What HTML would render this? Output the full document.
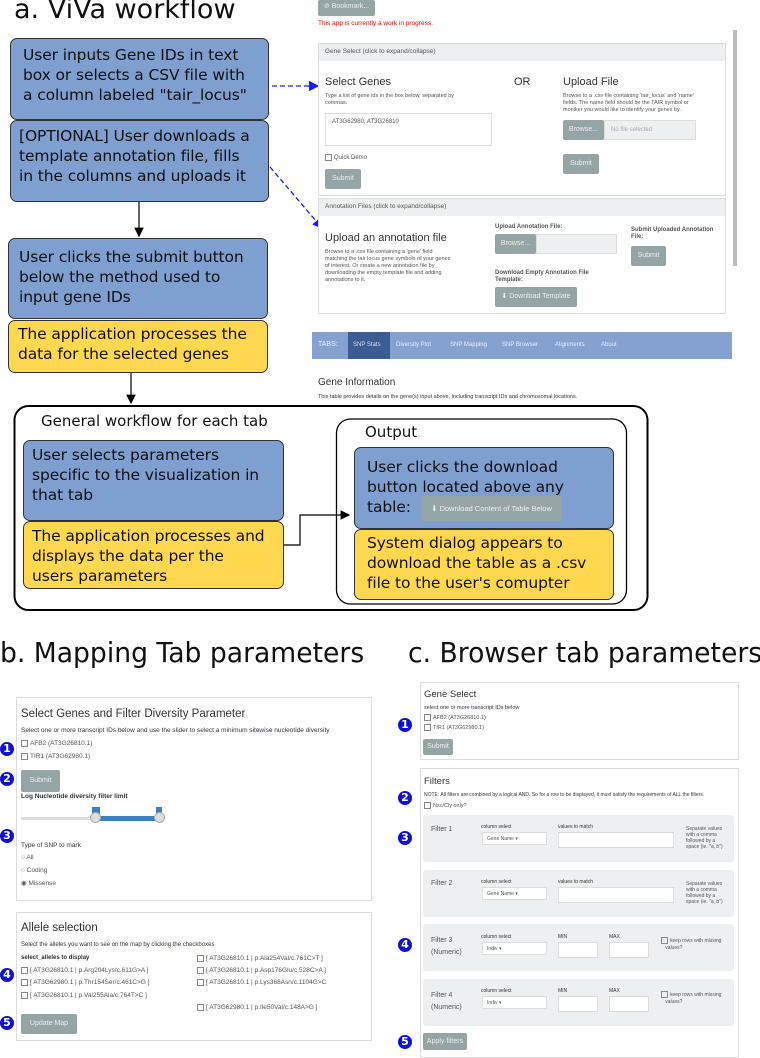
<!DOCTYPE html>
<html><head><meta charset="utf-8"><style>
*{box-sizing:border-box;margin:0;padding:0}
body{width:760px;height:1058px;position:relative;background:#fff;font-family:"DejaVu Sans","Liberation Sans",sans-serif;overflow:hidden;color:#111}
.a{position:absolute}
.bx{position:absolute;border:1px solid #333;border-radius:7px;padding:4px 8px;font-size:15.5px;line-height:20px;color:#111;letter-spacing:-0.1px}
.bl{background:#7f9fd1}
.yl{background:#ffd84f}
.s{font-family:"Liberation Sans",sans-serif;color:#555;position:absolute;white-space:nowrap}
.btn{position:absolute;background:#95a5a6;color:#eee;font-family:"Liberation Sans",sans-serif;font-size:7px;text-align:center;border-radius:2px}
.pan{position:absolute;border:1px solid #ddd;background:#fff}
.hdr{position:absolute;background:#ecf0f1}
.num{position:absolute;width:14px;height:14px;border-radius:50%;background:#1010d0;color:#fff;font-size:11px;font-weight:bold;text-align:center;line-height:14px;font-family:"DejaVu Sans",sans-serif}
.fb{position:absolute;background:#ecf0f1;border-radius:3px}
.inp{position:absolute;background:#fff;border:1px solid #ddd}
.cb{display:inline-block;width:7px;height:7px;border:1px solid #888;vertical-align:middle;margin-right:2px}
</style></head><body>
<div class="a" style="left:14px;top:-6px;font-size:27px;">a. ViVa workflow</div>

<div class="bx bl" style="left:10px;top:38px;width:259px;height:82px;padding:6px 6px 6px 12px;white-space:nowrap">User inputs Gene IDs in text<br>box or selects a CSV file with<br>a column labeled "tair_locus"</div>
<div class="bx bl" style="left:10px;top:120px;width:259px;height:82px;padding:5px 4px 5px 8px;white-space:nowrap">[OPTIONAL] User downloads a<br>template annotation file, fills<br>in the columns and uploads it</div>
<div class="bx bl" style="left:8px;top:238px;width:260px;height:81px;padding:8px 10px">User clicks the submit button below the method used to input gene IDs</div>
<div class="bx yl" style="left:8px;top:320px;width:260px;height:53px;padding:3px 9px">The application processes the data for the selected genes</div>

<svg class="a" style="left:0;top:0" width="760" height="1058">
<defs><marker id="k" markerWidth="8" markerHeight="8" refX="7" refY="4" orient="auto"><path d="M0,0L8,4L0,8z" fill="#000"/></marker>
<marker id="b" markerWidth="8" markerHeight="8" refX="7" refY="4" orient="auto"><path d="M0,0L8,4L0,8z" fill="#1a1aff"/></marker></defs>
<line x1="139" y1="202" x2="139" y2="236" stroke="#000" stroke-width="1.2" marker-end="url(#k)"/>
<line x1="131" y1="373" x2="131" y2="403" stroke="#000" stroke-width="1.2" marker-end="url(#k)"/>
<line x1="272" y1="86" x2="318" y2="86" stroke="#1a1aff" stroke-width="1.3" stroke-dasharray="5,3" marker-end="url(#b)"/>
<line x1="270" y1="167" x2="322" y2="228" stroke="#1a1aff" stroke-width="1.3" stroke-dasharray="5,3" marker-end="url(#b)"/>
<rect x="14.5" y="406" width="633" height="204" rx="14" fill="none" stroke="#000" stroke-width="2"/>
<rect x="336.5" y="419" width="290" height="185" rx="14" fill="none" stroke="#000" stroke-width="1.3"/>
<polyline points="284,545 300,545 300,515 349,515" fill="none" stroke="#000" stroke-width="1.2" marker-end="url(#k)"/>
</svg>

<div class="a" style="left:41px;top:412px;font-size:15px">General workflow for each tab</div>
<div class="a" style="left:365px;top:423px;font-size:15px">Output</div>
<div class="bx bl" style="left:23px;top:440px;width:261px;height:81px;padding:4px 6px 4px 8px">User selects parameters specific to the visualization in that tab</div>
<div class="bx yl" style="left:23px;top:521px;width:261px;height:68px;padding:4px 4px 4px 8px;white-space:nowrap">The application processes and<br>displays the data per the<br>users parameters</div>
<div class="bx bl" style="left:354px;top:447px;width:260px;height:82px;padding:9px 12px">User clicks the download button located above any table:</div>
<div class="a" style="left:421px;top:496px;width:141px;height:25px;background:#95a5a6;color:#eee;font-family:'Liberation Sans',sans-serif;font-size:7.5px;text-align:center;line-height:25px">⬇ Download Content of Table Below</div>
<div class="bx yl" style="left:354px;top:529px;width:260px;height:71px;padding:3px 12px">System dialog appears to download the table as a .csv file to the user's comupter</div>

<!-- screenshot top right -->
<div class="btn" style="left:318px;top:0;width:57px;height:16px;line-height:14px">⊘ Bookmark...</div>
<div class="s" style="left:318px;top:20px;font-size:6.5px;color:#e00">This app is currently a work in progress.</div>
<div class="a" style="left:733px;top:30px;width:4px;height:236px;background:#bbb"></div>
<div class="pan" style="left:318px;top:43px;width:408px;height:153px"></div>
<div class="hdr" style="left:319px;top:44px;width:406px;height:17px"></div>
<div class="s" style="left:325px;top:48px;font-size:6.5px">Gene Select (click to expand/collapse)</div>
<div class="s" style="left:325px;top:76px;font-size:11px;color:#333">Select Genes</div>
<div class="s" style="left:514px;top:76px;font-size:11px;color:#333">OR</div>
<div class="s" style="left:563px;top:76px;font-size:11px;color:#333">Upload File</div>
<div class="s" style="left:325px;top:93px;font-size:5.5px;line-height:7px">Type a list of gene ids in the box below, separated by<br>commas.</div>
<div class="s" style="left:563px;top:93px;font-size:5.5px;line-height:7px">Browse to a .csv file containing 'tair_locus' and 'name'<br>fields. The name field should be the TAIR symbol or<br>moniker you would like to identify your genes by.</div>
<div class="inp" style="left:325px;top:113px;width:167px;height:33px"></div>
<div class="s" style="left:332px;top:119px;font-size:6px">AT3G62980, AT3G26810</div>
<div class="s" style="left:325px;top:154px;font-size:6px"><span class="cb"></span>Quick Demo</div>
<div class="btn" style="left:325px;top:169px;width:36px;height:20px;line-height:20px">Submit</div>
<div class="btn" style="left:563px;top:120px;width:41px;height:20px;line-height:20px">Browse...</div>
<div class="inp" style="left:604px;top:120px;width:92px;height:20px;background:#ecf0f1"></div>
<div class="s" style="left:611px;top:127px;font-size:6px;color:#aaa">No file selected</div>
<div class="btn" style="left:563px;top:154px;width:36px;height:20px;line-height:20px">Submit</div>
<div class="pan" style="left:318px;top:198px;width:408px;height:116px"></div>
<div class="hdr" style="left:319px;top:199px;width:406px;height:17px"></div>
<div class="s" style="left:325px;top:203px;font-size:6.5px">Annotation Files (click to expand/collapse)</div>
<div class="s" style="left:325px;top:232px;font-size:11px;color:#333">Upload an annotation file</div>
<div class="s" style="left:325px;top:249px;font-size:5.5px;line-height:7px">Browse to a .csv file containing a 'gene' field<br>matching the tair locus gene symbols of your genes<br>of interest. Or create a new annotation file by<br>downloading the empty template file and adding<br>annotations to it.</div>
<div class="s" style="left:495px;top:224px;font-size:6px;font-weight:bold">Upload Annotation File:</div>
<div class="btn" style="left:495px;top:234px;width:41px;height:20px;line-height:20px">Browse...</div>
<div class="inp" style="left:536px;top:234px;width:81px;height:20px;background:#ecf0f1"></div>
<div class="s" style="left:631px;top:227px;font-size:6px;font-weight:bold;line-height:7px">Submit Uploaded Annotation<br>File:</div>
<div class="btn" style="left:631px;top:246px;width:35px;height:20px;line-height:20px">Submit</div>
<div class="s" style="left:495px;top:270px;font-size:6px;font-weight:bold;line-height:7px">Download Empty Annotation File<br>Template:</div>
<div class="btn" style="left:495px;top:287px;width:82px;height:20px;line-height:20px">⬇ Download Template</div>
<div class="a" style="left:312px;top:332px;width:420px;height:27px;background:#85a1d0"></div>
<div class="a" style="left:348px;top:332px;width:42px;height:27px;background:#3c5c94"></div>
<div class="s" style="left:318px;top:341px;font-size:7px;color:#eef">TABS:</div>
<div class="s" style="left:353px;top:342px;font-size:6px;color:#dde">SNP Stats</div>
<div class="s" style="left:396px;top:342px;font-size:6px;color:#eef">Diversity Plot</div>
<div class="s" style="left:450px;top:342px;font-size:6px;color:#eef">SNP Mapping</div>
<div class="s" style="left:502px;top:342px;font-size:6px;color:#eef">SNP Browser</div>
<div class="s" style="left:555px;top:342px;font-size:6px;color:#eef">Alignments</div>
<div class="s" style="left:601px;top:342px;font-size:6px;color:#eef">About</div>
<div class="s" style="left:318px;top:377px;font-size:10px;color:#333">Gene Information</div>
<div class="s" style="left:318px;top:394px;font-size:5.5px;color:#333">This table provides details on the gene(s) input above, including transcript IDs and chromosomal locations.</div>

<!-- titles -->
<div class="a" style="left:0;top:636px;font-size:28px;transform:scaleX(0.95);transform-origin:left;white-space:nowrap">b. Mapping Tab parameters</div>
<div class="a" style="left:408px;top:636px;font-size:28px;transform:scaleX(0.95);transform-origin:left;white-space:nowrap">c. Browser tab parameters</div>

<!-- b -->
<div class="pan" style="left:16px;top:697px;width:356px;height:204px"></div>
<div class="s" style="left:21px;top:708px;font-size:11.5px;color:#333">Select Genes and Filter Diversity Parameter</div>
<div class="s" style="left:21px;top:727px;font-size:6.5px;color:#334">Select one or more transcript IDs below and use the slider to select a minimum sitewise nucleotide diversity</div>
<div class="s" style="left:21px;top:740px;font-size:6.5px"><span class="cb"></span>AFB2 (AT3G26810.1)</div>
<div class="s" style="left:21px;top:753px;font-size:6.5px"><span class="cb"></span>TIR1 (AT3G62980.1)</div>
<div class="btn" style="left:21px;top:770px;width:39px;height:22px;line-height:22px">Submit</div>
<div class="s" style="left:21px;top:793px;font-size:6.5px;font-weight:bold;color:#333">Log Nucleotide diversity filter limit</div>
<div class="a" style="left:21px;top:817px;width:140px;height:3px;background:#ddd"></div>
<div class="a" style="left:96px;top:816px;width:64px;height:5px;background:#3b7fc4"></div>
<div class="a" style="left:92px;top:807px;width:8px;height:7px;background:#3b7fc4"></div>
<div class="a" style="left:156px;top:807px;width:6px;height:7px;background:#3b7fc4"></div>
<div class="a" style="left:90px;top:812px;width:11px;height:11px;border-radius:50%;background:#ddd;border:1px solid #aaa"></div>
<div class="a" style="left:154px;top:812px;width:11px;height:11px;border-radius:50%;background:#ddd;border:1px solid #aaa"></div>
<div class="s" style="left:21px;top:842px;font-size:6.5px;color:#333">Type of SNP to mark</div>
<div class="s" style="left:21px;top:854px;font-size:6.5px">○ All</div>
<div class="s" style="left:21px;top:867px;font-size:6.5px">○ Coding</div>
<div class="s" style="left:21px;top:879px;font-size:6.5px">◉ Missense</div>
<div class="pan" style="left:16px;top:912px;width:356px;height:129px"></div>
<div class="s" style="left:21px;top:922px;font-size:11.5px;color:#333">Allele selection</div>
<div class="s" style="left:21px;top:942px;font-size:6px;color:#334">Select the alleles you want to see on the map by clicking the checkboxes</div>
<div class="s" style="left:21px;top:955px;font-size:6px;font-weight:bold;color:#333">select_alleles to display</div>
<div class="s" style="left:21px;top:967px;font-size:6.5px"><span class="cb"></span>[ AT3G26810.1 | p.Arg204Lys/c.611G&gt;A ]</div>
<div class="s" style="left:21px;top:979px;font-size:6.5px"><span class="cb"></span>[ AT3G62980.1 | p.Thr154Ser/c.461C&gt;G ]</div>
<div class="s" style="left:21px;top:992px;font-size:6.5px"><span class="cb"></span>[ AT3G26810.1 | p.Val255Ala/c.764T&gt;C ]</div>
<div class="s" style="left:197px;top:955px;font-size:6.5px"><span class="cb"></span>[ AT3G26810.1 | p.Ala254Val/c.761C&gt;T ]</div>
<div class="s" style="left:197px;top:967px;font-size:6.5px"><span class="cb"></span>[ AT3G26810.1 | p.Asp176Glu/c.528C&gt;A ]</div>
<div class="s" style="left:197px;top:979px;font-size:6.5px"><span class="cb"></span>[ AT3G26810.1 | p.Lys368Asn/c.1104G&gt;C</div>
<div class="s" style="left:197px;top:1004px;font-size:6.5px"><span class="cb"></span>[ AT3G62980.1 | p.Ile50Val/c.148A&gt;G ]</div>
<div class="btn" style="left:21px;top:1014px;width:56px;height:20px;line-height:20px">Update Map</div>
<div class="num" style="left:0;top:742px">1</div>
<div class="num" style="left:0;top:772px">2</div>
<div class="num" style="left:0;top:829px">3</div>
<div class="num" style="left:0;top:968px">4</div>
<div class="num" style="left:0;top:1016px">5</div>

<!-- c -->
<div class="pan" style="left:420px;top:682px;width:319px;height:78px"></div>
<div class="s" style="left:424px;top:689px;font-size:9.5px;color:#333">Gene Select</div>
<div class="s" style="left:424px;top:705px;font-size:5.5px;color:#334">select one or more transcript IDs below</div>
<div class="s" style="left:424px;top:714px;font-size:5.5px"><span class="cb"></span>AFB2 (AT3G26810.1)</div>
<div class="s" style="left:424px;top:724px;font-size:5.5px"><span class="cb"></span>TIR1 (AT3G62980.1)</div>
<div class="btn" style="left:423px;top:739px;width:30px;height:16px;line-height:16px">Submit</div>
<div class="pan" style="left:420px;top:768px;width:319px;height:290px"></div>
<div class="s" style="left:424px;top:776px;font-size:9.5px;color:#333">Filters</div>
<div class="s" style="left:424px;top:792px;font-size:5px;color:#334">NOTE: All filters are combined by a logical AND. So for a row to be displayed, it must satisfy the requirements of ALL the filters.</div>
<div class="s" style="left:424px;top:802px;font-size:5.5px"><span class="cb"></span>Nsc/Cly only?</div>
<div class="fb" style="left:423px;top:815px;width:311px;height:47px"></div>
<div class="fb" style="left:423px;top:870px;width:311px;height:47px"></div>
<div class="fb" style="left:423px;top:924px;width:311px;height:47px"></div>
<div class="fb" style="left:423px;top:979px;width:311px;height:47px"></div>
<div class="s" style="left:431px;top:826px;font-size:7px">Filter 1</div>
<div class="s" style="left:431px;top:880px;font-size:7px">Filter 2</div>
<div class="s" style="left:431px;top:935px;font-size:7px;line-height:12px">Filter 3<br>(Numeric)</div>
<div class="s" style="left:431px;top:990px;font-size:7px;line-height:12px">Filter 4<br>(Numeric)</div>
<div class="s" style="left:481px;top:824px;font-size:5px;color:#333">column select</div>
<div class="inp" style="left:482px;top:832px;width:65px;height:13px"></div>
<div class="s" style="left:487px;top:836px;font-size:5px">Gene Name ▾</div>
<div class="s" style="left:558px;top:824px;font-size:5px;color:#333">values to match</div>
<div class="inp" style="left:558px;top:832px;width:116px;height:16px"></div>
<div class="s" style="left:686px;top:826px;font-size:5px;line-height:6px">Separate values<br>with a comma<br>followed by a<br>space (ie. "a, b")</div>
<div class="s" style="left:481px;top:879px;font-size:5px;color:#333">column select</div>
<div class="inp" style="left:482px;top:887px;width:65px;height:13px"></div>
<div class="s" style="left:487px;top:891px;font-size:5px">Gene Name ▾</div>
<div class="s" style="left:558px;top:879px;font-size:5px;color:#333">values to match</div>
<div class="inp" style="left:558px;top:887px;width:116px;height:16px"></div>
<div class="s" style="left:686px;top:881px;font-size:5px;line-height:6px">Separate values<br>with a comma<br>followed by a<br>space (ie. "a, b")</div>
<div class="s" style="left:481px;top:934px;font-size:5px;color:#333">column select</div>
<div class="inp" style="left:482px;top:942px;width:65px;height:13px"></div>
<div class="s" style="left:487px;top:946px;font-size:5px">Indiv ▾</div>
<div class="s" style="left:558px;top:934px;font-size:5px;color:#333">MIN</div>
<div class="inp" style="left:558px;top:942px;width:40px;height:16px"></div>
<div class="s" style="left:609px;top:934px;font-size:5px;color:#333">MAX</div>
<div class="inp" style="left:609px;top:942px;width:40px;height:16px"></div>
<div class="s" style="left:661px;top:937px;font-size:5px;line-height:7px"><span class="cb"></span>keep rows with missing<br>&nbsp;&nbsp;&nbsp;values?</div>
<div class="s" style="left:481px;top:988px;font-size:5px;color:#333">column select</div>
<div class="inp" style="left:482px;top:996px;width:65px;height:13px"></div>
<div class="s" style="left:487px;top:1000px;font-size:5px">Indiv ▾</div>
<div class="s" style="left:558px;top:988px;font-size:5px;color:#333">MIN</div>
<div class="inp" style="left:558px;top:996px;width:40px;height:16px"></div>
<div class="s" style="left:609px;top:988px;font-size:5px;color:#333">MAX</div>
<div class="inp" style="left:609px;top:996px;width:40px;height:16px"></div>
<div class="s" style="left:661px;top:991px;font-size:5px;line-height:7px"><span class="cb"></span>keep rows with missing<br>&nbsp;&nbsp;&nbsp;values?</div>
<div class="btn" style="left:423px;top:1033px;width:44px;height:17px;line-height:17px">Apply filters</div>
<div class="num" style="left:398px;top:718px">1</div>
<div class="num" style="left:398px;top:791px">2</div>
<div class="num" style="left:398px;top:831px">3</div>
<div class="num" style="left:398px;top:938px">4</div>
<div class="num" style="left:398px;top:1035px">5</div>
</body></html>
